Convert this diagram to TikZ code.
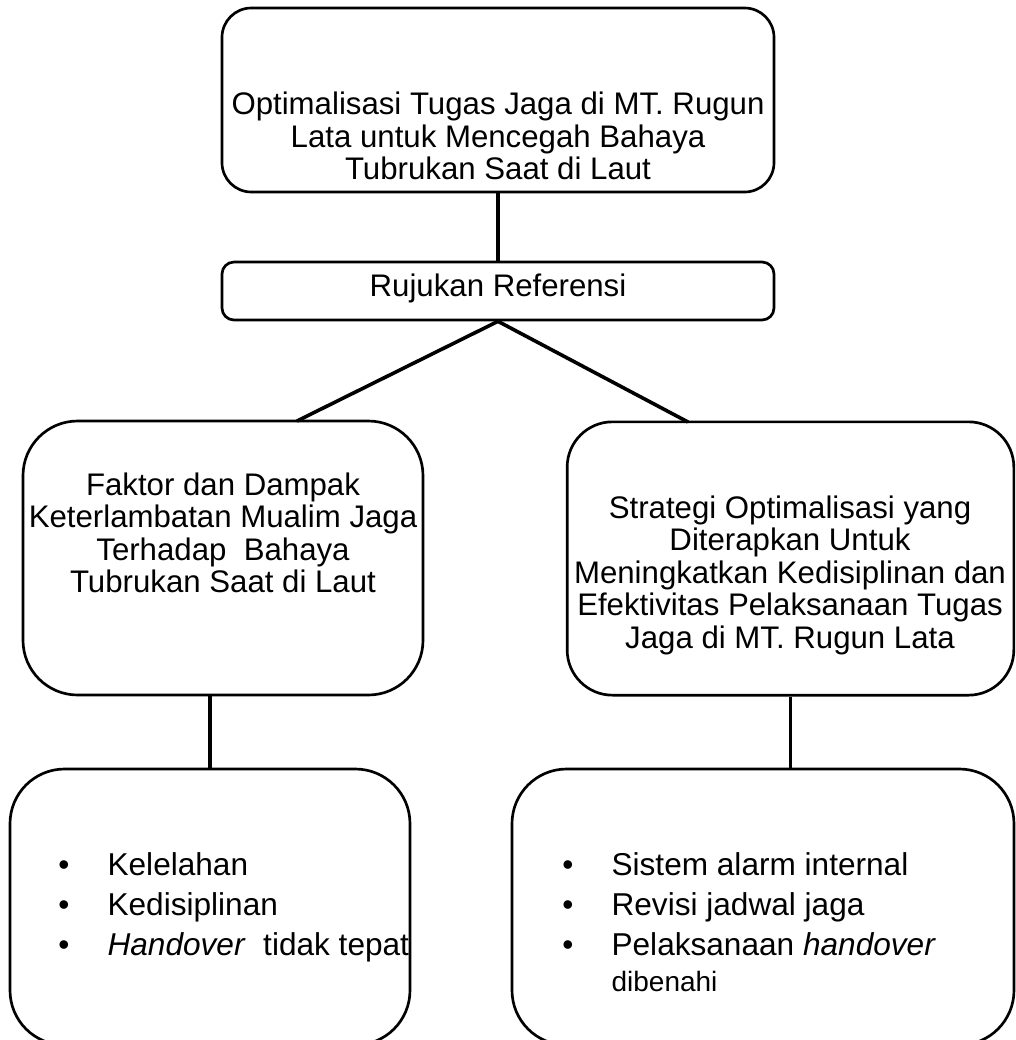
\documentclass[tikz,border=0pt]{standalone}
\usepackage{fontspec}
\setmainfont{Liberation Sans}
\tikzset{
  kotak/.style={draw, line width=2pt, rounded corners=#1, inner sep=0pt},
  kotak/.default=22pt,
  teks/.style={align=center, inner sep=0pt, font=\fontsize{23.4}{24.4}\selectfont},
  daftar/.style={inner sep=0pt, anchor=west, font=\fontsize{23.7}{30}\selectfont},
  garis/.style={line width=2.7pt}
}
\begin{document}
\begin{tikzpicture}[x=0.75pt, y=-0.75pt]
    % Batas gambar.
    \clip (0,0) rectangle (1016,1040);

    % Kotak judul dan rujukan.
    \node[kotak, minimum width=414pt, minimum height=138pt] (J) at (498,100) {};
    \node[kotak=9pt, minimum width=414pt, minimum height=43.5pt] (R) at (498,291) {};
    \node[teks] (tJ) at (498,136)
        {Optimalisasi Tugas Jaga di MT. Rugun\\Lata untuk Mencegah Bahaya\\Tubrukan Saat di Laut};
    \node[teks] (tR) at (498,288) {Rujukan Referensi};

    % Kotak faktor dan strategi.
    \node[kotak=41pt, minimum width=300pt, minimum height=205.5pt] (F) at (223,558) {};
    \node[kotak=34pt, minimum width=335pt, minimum height=205pt] (S) at (790.5,558.5) {};
    \node[teks] (tF) at (223,533)
        {Faktor dan Dampak\\Keterlambatan Mualim Jaga\\Terhadap\ \ Bahaya\\Tubrukan Saat di Laut};
    \node[teks] (tS) at (790,575)
        {Strategi Optimalisasi yang\\Diterapkan Untuk\\Meningkatkan Kedisiplinan dan\\Efektivitas Pelaksanaan Tugas\\Jaga di MT. Rugun Lata};

    % Kotak poin di bawah.
    \node[kotak=41pt, minimum width=300pt, minimum height=207pt] (f) at (210,907) {};
    \node[kotak=41pt, minimum width=376.5pt, minimum height=207pt] (s) at (763,907) {};
    \node[daftar] (tf) at (58,907)
        {\begin{tabular}{@{}l@{}l@{}}
         \makebox[37pt][l]{\textbullet} & Kelelahan\\
         \makebox[37pt][l]{\textbullet} & Kedisiplinan\\
         \makebox[37pt][l]{\textbullet} & \textit{Handover}\ \ tidak tepat
         \end{tabular}};
    \node[daftar] (ts) at (562,925)
        {\begin{tabular}{@{}l@{}l@{}}
         \makebox[37pt][l]{\textbullet} & Sistem alarm internal\\
         \makebox[37pt][l]{\textbullet} & Revisi jadwal jaga\\
         \makebox[37pt][l]{\textbullet} & Pelaksanaan \textit{handover}\\[-3pt]
         & {\fontsize{21}{24}\selectfont dibenahi}
         \end{tabular}};

    % Garis penghubung.
    \coordinate (kiri) at (297,421);
    \coordinate (kanan) at (688,422);
    \draw[garis] (J.south) -- (R.north);
    \draw[garis] (R.south) -- (kiri);
    \draw[garis] (R.south) -- (kanan);
    \draw[garis] (F.south -| f.north) -- (f.north);
    \draw[garis] (S.south) -- (S.south |- s.north);
\end{tikzpicture}
\end{document}
